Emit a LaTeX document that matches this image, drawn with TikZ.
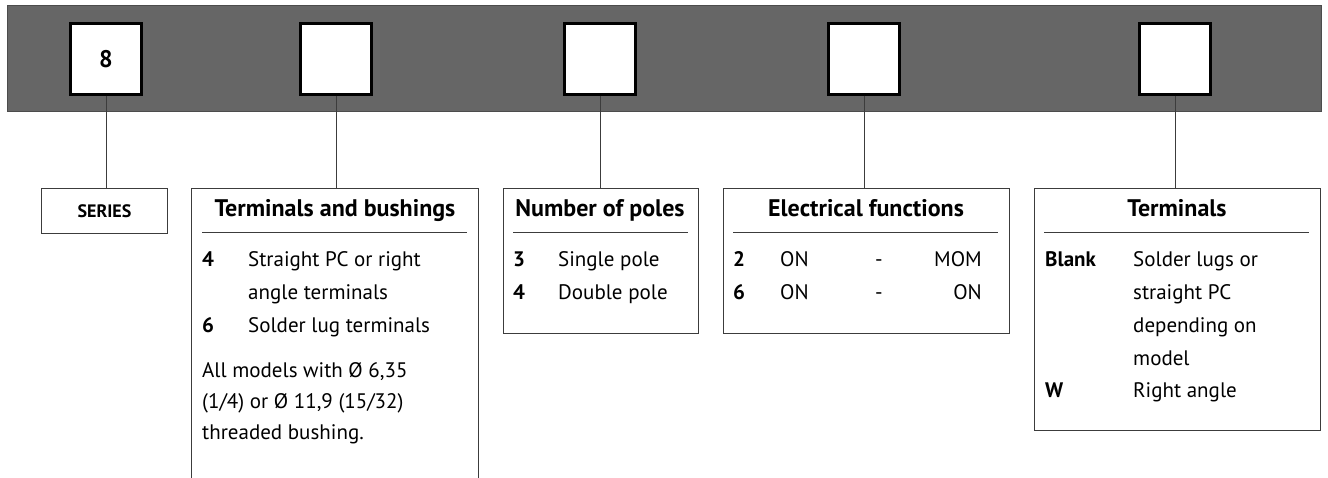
\documentclass[tikz,border=0pt]{standalone}
\usepackage{fontspec}
\setmainfont{PT Sans}
\usetikzlibrary{positioning}

\definecolor{bargrey}{RGB}{102,102,102}
\definecolor{framegrey}{RGB}{60,60,60}
\newcommand{\bodysize}{\fontsize{21}{25}\selectfont}
\newcommand{\headsize}{\fontsize{24}{28}\selectfont\bfseries}

\tikzset{
  codebox/.style={draw=black, line width=2.5pt, fill=white, minimum size=71pt, inner sep=0pt, font=\headsize},
  descbox/.style={draw=framegrey, line width=1pt, anchor=north west, inner sep=0pt},
  item/.style={anchor=base west, inner sep=0pt, font=\bodysize},
  key/.style={item, font=\bodysize\bfseries},
  head/.style={anchor=base, inner sep=0pt, font=\headsize},
  link/.style={draw=framegrey, line width=1pt},
}

\begin{document}
\begin{tikzpicture}[x=1pt,y=-1pt]
\clip (0,0) rectangle (1328,478);

\node[draw=bargrey!75!black, fill=bargrey, line width=1pt, minimum width=1314pt, minimum height=106pt, anchor=north west, inner sep=0pt] (bar) at (7,5) {};

\foreach \n/\x/\v in {1/106/8, 2/336/, 3/600/, 4/864/, 5/1175/}
    \node[codebox] (c\n) at (\x,59) {\v};

\node[descbox, minimum width=126pt, minimum height=45pt] (d1) at (41,188) {};
\node[descbox, minimum width=287pt, minimum height=320pt] (d2) at (191,188) {};
\node[descbox, minimum width=195pt, minimum height=145pt] (d3) at (503,188) {};
\node[descbox, minimum width=286pt, minimum height=145pt] (d4) at (723,188) {};
\node[descbox, minimum width=286pt, minimum height=242pt] (d5) at (1034,188) {};

\foreach \n in {1,...,5}
    \draw[link] (c\n.south) -- (c\n.south |- d\n.north);

\node[inner sep=0pt, font=\fontsize{18}{21}\selectfont\bfseries] (series) at (d1.center) {SERIES};

% terminals and bushings
\node[head] (h2) at (335,217) {Terminals and bushings};
\draw[link] (202,233) -- (467,233);
\node[key] (k21) at (202,267) {4};
\node[item] (t21) at (248,267) {Straight PC or right};
\node[item] (t22) at (248,300) {angle terminals};
\node[key] (k23) at (202,332) {6};
\node[item] (t23) at (248,332) {Solder lug terminals};
\node[item] (t24) at (202,377) {All models with Ø 6,35};
\node[item] (t25) at (202,408) {(1/4) or Ø 11,9 (15/32)};
\node[item] (t26) at (202,439) {threaded bushing.};

% poles
\node[head] (h3) at (600,217) {Number of poles};
\draw[link] (513,233) -- (688,233);
\node[key] (k31) at (513,267) {3};
\node[item] (t31) at (558,267) {Single pole};
\node[key] (k32) at (513,300) {4};
\node[item] (t32) at (558,300) {Double pole};

% functions
\node[head] (h4) at (866,217) {Electrical functions};
\draw[link] (733,233) -- (998,233);
\foreach \y/\k/\r in {267/2/MOM, 300/6/ON}{
    \node[key] (k4\k) at (733,\y) {\k};
    \node[item] (a4\k) at (780,\y) {ON};
    \node[item] (m4\k) at (875,\y) {-};
    \node[item, anchor=base east] (b4\k) at (982,\y) {\r};
}

% terminals
\node[head] (h5) at (1177,217) {Terminals};
\draw[link] (1044,233) -- (1309,233);
\node[key] (k51) at (1045,267) {Blank};
\foreach \y/\t in {267/Solder lugs or, 300/straight PC, 332/depending on, 365/model, 397/Right angle}
    \node[item] (t5\y) at (1133,\y) {\t};
\node[key] (k55) at (1045,397) {W};

\end{tikzpicture}
\end{document}
